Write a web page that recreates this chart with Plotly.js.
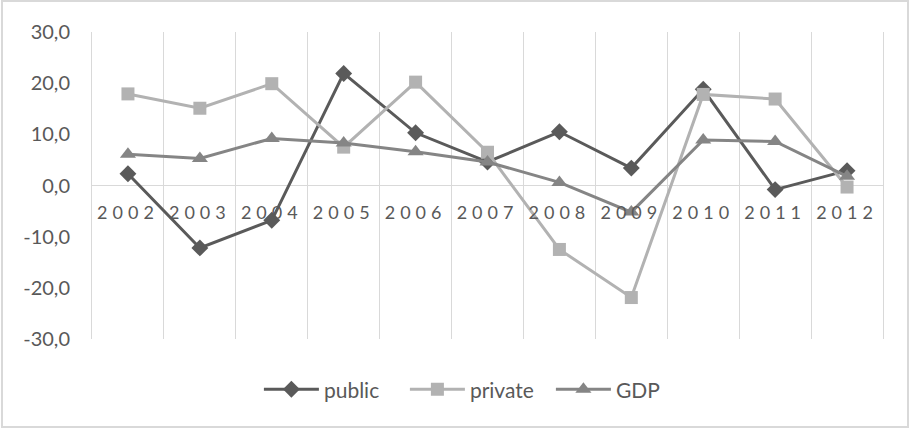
<!DOCTYPE html>
<html>
<head>
<meta charset="utf-8">
<script src="https://cdn.plot.ly/plotly-3.0.1.min.js"></script>
<style>
  html, body { margin: 0; padding: 0; background: #fff; }
  #wrap { position: relative; width: 911px; height: 429px; }
  #chart { position: absolute; left: 0; top: 0; width: 911px; height: 429px; }
  #frame { position: absolute; left: 1px; top: 0px; width: 908px; height: 428px; box-sizing: border-box; border: 2px solid #d9d9d9; pointer-events: none; }
  .xtick text { letter-spacing: 5px; }
</style>
</head>
<body>
<div id="wrap">
  <div id="chart"></div>
  <div id="frame"></div>
</div>
<script>
const years = ["2002","2003","2004","2005","2006","2007","2008","2009","2010","2011","2012"];
const publicVals  = [2.3, -12.2, -6.8, 21.9, 10.3, 4.6, 10.5, 3.4, 18.8, -0.8, 2.9];
const privateVals = [17.9, 15.1, 19.9, 7.5, 20.2, 6.5, -12.5, -21.9, 17.8, 16.9, -0.3];
const gdpVals     = [6.1, 5.3, 9.2, 8.3, 6.6, 4.6, 0.6, -5.2, 8.9, 8.6, 1.8];
const yTickVals = [-30, -20, -10, 0, 10, 20, 30];
const yTickText = ["-30,0", "-20,0", "-10,0", "0,0", "10,0", "20,0", "30,0"];

const font = "Lato, 'Open Sans', sans-serif";
const textColor = "#595959";

const traces = [
  { x: years, y: publicVals, name: "public", type: "scatter", mode: "lines+markers",
    line: { color: "#5a5a5a", width: 3 }, marker: { symbol: "diamond", size: 13, color: "#5a5a5a" } },
  { x: years, y: privateVals, name: "private", type: "scatter", mode: "lines+markers",
    line: { color: "#b2b2b2", width: 3 }, marker: { symbol: "square", size: 13, color: "#b2b2b2" } },
  { x: years, y: gdpVals, name: "GDP", type: "scatter", mode: "lines+markers",
    line: { color: "#858585", width: 3 }, marker: { symbol: "triangle-up", size: 14, color: "#858585" } }
];

const layout = {
  width: 911, height: 429,
  margin: { l: 91.5, r: 28.3, t: 32, b: 89.5, autoexpand: false },
  paper_bgcolor: "#ffffff", plot_bgcolor: "#ffffff",
  font: { family: font, color: textColor, size: 18 },
  showlegend: true,
  legend: { orientation: "h", x: 0.211, xanchor: "left", y: -0.165, yanchor: "middle",
            itemwidth: 55, entrywidth: 76,
            font: { family: font, size: 21, color: textColor } },
  xaxis: {
    type: "category", range: [-0.5, 10.5], tickson: "boundaries",
    showgrid: true, gridcolor: "#d9d9d9", gridwidth: 1,
    anchor: "free", position: 0.5, showline: false, ticks: "",
    ticklabelstandoff: 14, zeroline: false,
    tickfont: { family: font, size: 18, color: textColor }
  },
  yaxis: {
    range: [-30, 30], tickvals: yTickVals, ticktext: yTickText,
    showgrid: false, zeroline: true, zerolinecolor: "#d9d9d9", zerolinewidth: 1.5,
    showline: true, linecolor: "#d9d9d9", linewidth: 1, mirror: true,
    ticks: "", ticklabelstandoff: 17,
    tickfont: { family: font, size: 20, color: textColor }
  }
};

Plotly.newPlot("chart", traces, layout, { staticPlot: true, displayModeBar: false });
</script>
</body>
</html>
